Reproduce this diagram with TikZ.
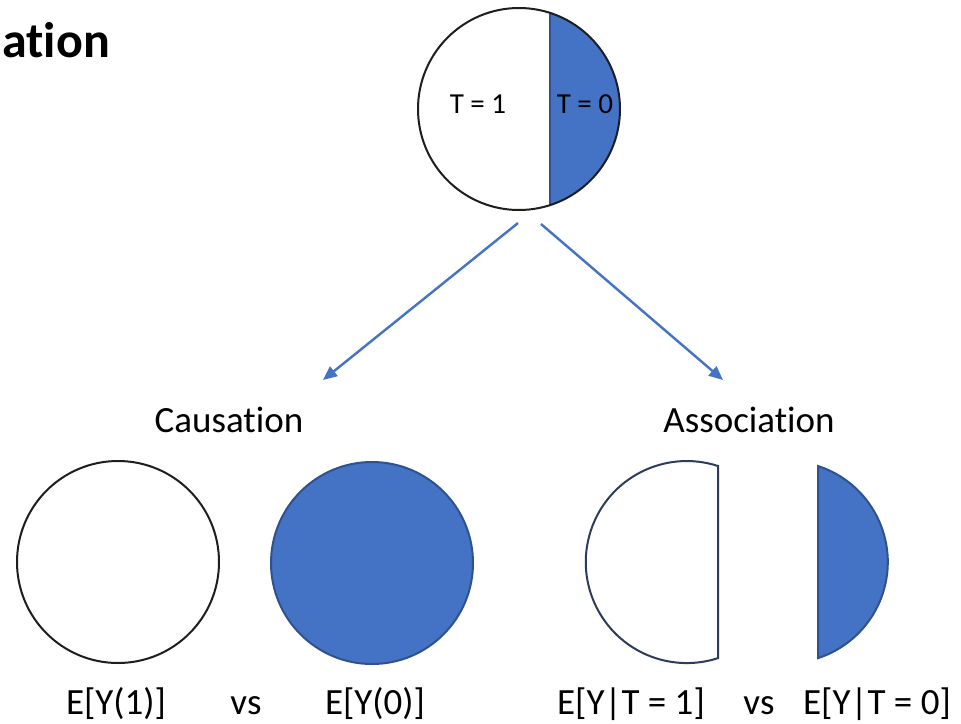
\documentclass[tikz,border=0pt]{standalone}
\usepackage{fontspec}
\setmainfont{Carlito}[Ligatures=NoCommon]
\usetikzlibrary{arrows.meta}
\definecolor{fillblue}{HTML}{4472C4}
\definecolor{edgeblue}{HTML}{2F528F}
\definecolor{edgenavy}{HTML}{2E3B5A}
\definecolor{edgegrey}{HTML}{1E1E1E}
\begin{document}
\begin{tikzpicture}[x=1pt,y=-1pt,
  txt/.style={inner sep=0pt,anchor=base,font=\fontsize{37}{42}\selectfont},
  head/.style={inner sep=0pt,anchor=base,font=\fontsize{37}{42}\selectfont},
  small/.style={inner sep=0pt,anchor=base,font=\fontsize{29}{32}\selectfont},
  link/.style={draw=fillblue,line width=2.4pt,-{Triangle[length=14pt,width=12pt]}},
  disc/.style={circle,minimum size=202pt,inner sep=0pt,line width=2pt}]
\useasboundingbox[fill=white] (0,0) rectangle (961,723);

% heading fragment
\node[inner sep=0pt,anchor=base west,font=\bfseries\fontsize{50}{54}\selectfont] (title) at (2,57) {ation};

% population split by treatment
\begin{scope}
  \clip (550,0) rectangle (700,230);
  \fill[fillblue] (519,109) circle (101);
\end{scope}
\draw[edgeblue,line width=1.6pt] (550,13) -- (550,205);
\node[disc,draw=edgegrey] (top) at (519,109) {};
\node[small] (t1) at (478,113) {T = 1};
\node[small] (t0) at (585,113) {T = 0};

% branches
\coordinate (l0) at (518,223);
\coordinate (l1) at (323,380);
\coordinate (r0) at (541,224);
\coordinate (r1) at (723,380);
\draw[link] (l0) -- (l1);
\draw[link] (r0) -- (r1);

\node[head] (caus) at (229,432) {Causation};
\node[head] (assoc) at (749,432) {Association};

% causation: full populations
\node[disc,draw=edgegrey,fill=white] (c1) at (118,562) {};
\node[disc,draw=edgeblue,fill=fillblue] (c0) at (372,563) {};

% association: the two sub-populations
\draw[edgenavy,line width=2pt,fill=white]
  (718,466) arc[start angle=-72,end angle=-288,radius=101] -- cycle;
\draw[edgeblue,line width=2pt,fill=fillblue]
  (818,466) arc[start angle=-72,end angle=72,radius=101] -- cycle;

% expectations
\node[txt] (e1) at (116,714) {E[Y(1)]};
\node[txt] (vs1) at (246,714) {vs};
\node[txt] (e0) at (375,714) {E[Y(0)]};
\node[txt] (f1) at (631,714) {E[Y|T = 1]};
\node[txt] (vs2) at (759,714) {vs};
\node[txt] (f0) at (877,714) {E[Y|T = 0]};
\end{tikzpicture}
\end{document}
